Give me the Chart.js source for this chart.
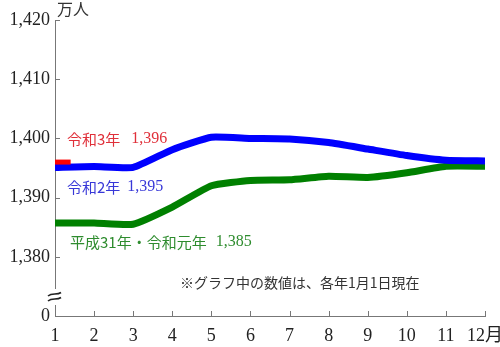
<!DOCTYPE html>
<html>
<head>
<meta charset="utf-8">
<script src="https://cdn.jsdelivr.net/npm/chart.js@4/dist/chart.umd.min.js"></script>
<style>
  html, body { margin: 0; padding: 0; background: #fff; }
  #wrap { width: 500px; height: 347px; }
</style>
</head>
<body>
<div id="wrap"><canvas id="myChart"></canvas></div>
<script>
// months 1..12
const months = [1, 2, 3, 4, 5, 6, 7, 8, 9, 10, 11, 12];
// 平成31年・令和元年
const h31 = [1385.7, 1385.7, 1385.5, 1388.4, 1392.0, 1392.9, 1393.0, 1393.6, 1393.4, 1394.2, 1395.3, 1395.3];
// 令和2年
const r2 = [1395.1, 1395.25, 1395.1, 1398.1, 1400.2, 1400.0, 1399.9, 1399.3, 1398.2, 1397.1, 1396.3, 1396.2];
// 令和3年 (only January so far)
const r3x = [1, 1.4];
const r3 = [1396, 1396];
const yTicks = [1370, 1380, 1390, 1400, 1410, 1420];
const yLabels = ['0', '1,380', '1,390', '1,400', '1,410', '1,420'];

const numFont = "'Liberation Serif', 'Noto Sans CJK JP', serif";
const jpFont = "'Noto Sans CJK JP', 'Liberation Serif', sans-serif";

const toPoints = (xs, ys) => xs.map((x, i) => ({ x: x, y: ys[i] }));

// ticks pointing inward, axis break, unit label, annotations
const extras = {
  id: 'extras',
  afterDraw(chart) {
    const ctx = chart.ctx;
    const xs = chart.scales.x, ys = chart.scales.y;
    const ca = chart.chartArea;
    ctx.save();
    ctx.strokeStyle = '#777';
    ctx.lineWidth = 1;
    ctx.beginPath();
    yTicks.slice(1).forEach(v => {
      const y = Math.round(ys.getPixelForValue(v)) + 0.5;
      ctx.moveTo(ca.left, y); ctx.lineTo(ca.left + 5, y);
    });
    months.slice(1).forEach(m => {
      const x = Math.round(xs.getPixelForValue(m)) + 0.5;
      ctx.moveTo(x, ca.bottom); ctx.lineTo(x, ca.bottom - 5);
    });
    ctx.stroke();

    // axis break
    const by = ca.bottom - 19;
    ctx.fillStyle = '#fff';
    ctx.fillRect(ca.left - 8, by - 8, 16, 16);
    ctx.strokeStyle = '#222';
    ctx.lineWidth = 1.6;
    [-2.5, 2.5].forEach(d => {
      ctx.beginPath();
      ctx.moveTo(ca.left - 7, by + d + 1.5);
      ctx.bezierCurveTo(ca.left - 3, by + d - 2, ca.left + 2, by + d + 1, ca.left + 6, by + d - 2);
      ctx.stroke();
    });

    // unit
    ctx.fillStyle = '#333';
    ctx.textBaseline = 'middle';
    ctx.textAlign = 'left';
    ctx.font = "16px " + jpFont;
    ctx.fillText('万人', ca.left + 2, 9);

    const label = (txt, val, color, x, y, gap) => {
      ctx.fillStyle = color;
      ctx.font = "15px " + jpFont;
      ctx.fillText(txt, x, y);
      const w = ctx.measureText(txt).width;
      ctx.font = "16px " + numFont;
      ctx.fillText(val, x + w + gap, y);
    };
    label('令和3年', '1,396', '#e0303a', ca.left + 12, 139, 11);
    label('令和2年', '1,395', '#3838d8', ca.left + 12, 187, 7);
    label('平成31年・令和元年', '1,385', '#2e8c2e', ca.left + 15, 242, 9);

    ctx.fillStyle = '#333';
    ctx.font = "14px " + jpFont;
    ctx.fillText('※グラフ中の数値は、各年1月1日現在', 180, 283);
    ctx.restore();
  }
};

const myChart = new Chart(document.getElementById('myChart'), {
  type: 'line',
  data: {
    datasets: [
      {
        label: '平成31年・令和元年',
        data: toPoints(months, h31),
        borderColor: '#008000',
        borderWidth: 7,
        pointRadius: 0,
        tension: 0.15,
        borderJoinStyle: 'round',
        order: 3
      },
      {
        label: '令和2年',
        data: toPoints(months, r2),
        borderColor: '#0000ff',
        borderWidth: 7,
        pointRadius: 0,
        tension: 0.15,
        borderJoinStyle: 'round',
        order: 2
      },
      {
        label: '令和3年',
        data: toPoints(r3x, r3),
        borderColor: '#ff0000',
        borderWidth: 5,
        pointRadius: 0,
        order: 1
      }
    ]
  },
  options: {
    responsive: true,
    maintainAspectRatio: false,
    animation: false,
    layout: { padding: { top: 20, right: 15, left: 0, bottom: 0 } },
    plugins: { legend: { display: false }, tooltip: { enabled: false } },
    scales: {
      x: {
        type: 'linear',
        min: 1,
        max: 12,
        afterFit: s => { s.height = 31; s.paddingRight = 0; s.paddingLeft = 0; },
        afterBuildTicks: s => { s.ticks = months.map(v => ({ value: v })); },
        grid: { display: false, drawTicks: false },
        border: { display: true, color: '#777', width: 1 },
        ticks: {
          padding: 9,
          color: '#222',
          font: { family: numFont, size: 18 },
          maxRotation: 0,
          autoSkip: false,
          callback: v => v === 12 ? '12月' : String(v)
        }
      },
      y: {
        min: 1370,
        max: 1420,
        afterFit: s => { s.width = 55; s.paddingTop = 0; s.paddingBottom = 0; },
        afterBuildTicks: s => { s.ticks = yTicks.map(v => ({ value: v })); },
        grid: { display: false, drawTicks: false },
        border: { display: true, color: '#777', width: 1 },
        ticks: {
          padding: 5,
          color: '#222',
          font: { family: numFont, size: 18 },
          callback: v => yLabels[yTicks.indexOf(v)]
        }
      }
    }
  },
  plugins: [extras]
});
</script>
</body>
</html>
